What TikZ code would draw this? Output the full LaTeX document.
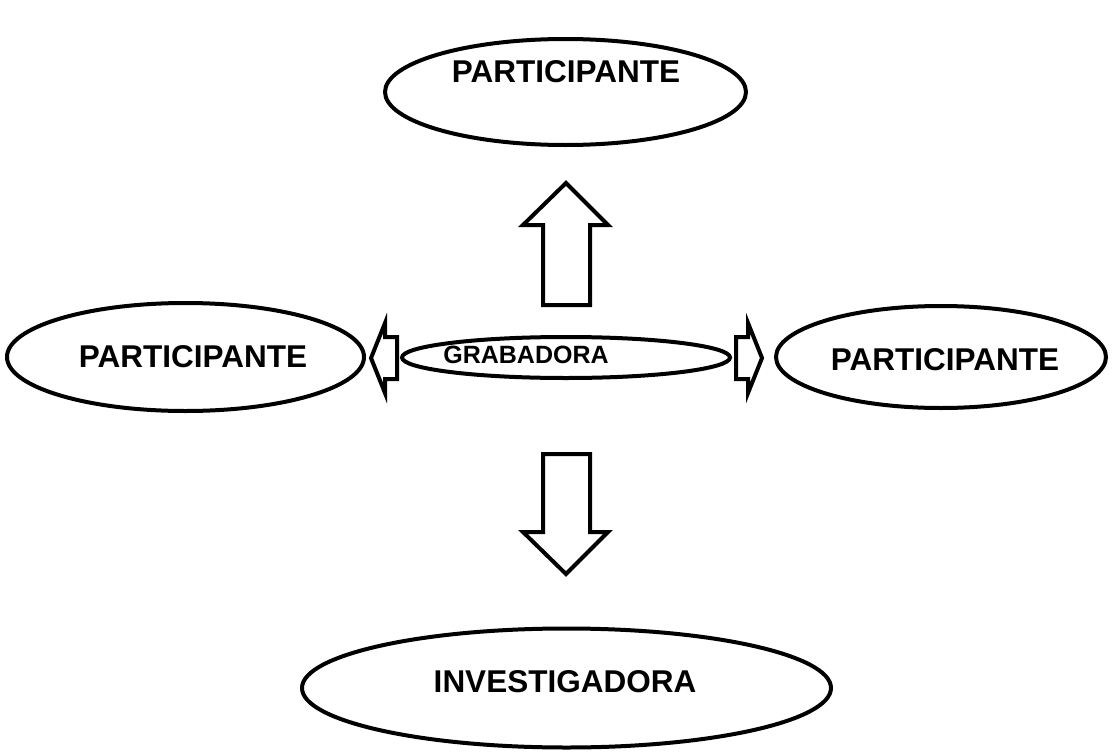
\documentclass[tikz,border=0pt]{standalone}
\usepackage{fontspec}
\setmainfont{Liberation Sans}
\usetikzlibrary{shapes.geometric}
\begin{document}
\begin{tikzpicture}[x=1pt,y=-1pt,
  oval/.style={draw, ellipse, line width=4pt, inner sep=0pt},
  lbl/.style={font=\bfseries\fontsize{31.5}{31.5}\selectfont, inner sep=0pt},
  smalllbl/.style={font=\bfseries\fontsize{25}{25}\selectfont, inner sep=0pt},
  blockarrow/.style={draw, line width=4pt, line join=miter, fill=white}]
\useasboundingbox (0,0) rectangle (1112,755);

% ovals
\node[oval, minimum width=361pt, minimum height=106pt] (ptop) at (565.5,92) {};
\node[oval, minimum width=357pt, minimum height=108pt] (pleft) at (185.5,357) {};
\node[oval, minimum width=330pt, minimum height=102pt] (pright) at (941,357) {};
\node[oval, minimum width=328pt, minimum height=41pt] (rec) at (566,357.5) {};
\node[oval, minimum width=529pt, minimum height=119pt] (inv) at (566.5,688) {};

% labels
\node[lbl] (tptop) at (566,72) {PARTICIPANTE};
\node[lbl] (tpleft) at (193,357) {PARTICIPANTE};
\node[lbl] (tpright) at (945,360) {PARTICIPANTE};
\node[smalllbl] (trec) at (526,355) {GRABADORA};
\node[lbl] (tinv) at (565,682) {INVESTIGADORA};

% block arrows
\draw[blockarrow] (543,305) -- (543,225) -- (523,225) -- (566,183) -- (608,225)
  -- (590,225) -- (590,305) -- cycle;
\draw[blockarrow] (543,454) -- (543,532) -- (523,532) -- (566,574) -- (608,532)
  -- (590,532) -- (590,454) -- cycle;
\draw[blockarrow] (397,337) -- (385,337) -- (385,323) -- (371,358) -- (385,393)
  -- (385,379) -- (397,379) -- cycle;
\draw[blockarrow] (736,337) -- (748,337) -- (748,323) -- (762,358) -- (748,393)
  -- (748,379) -- (736,379) -- cycle;
\end{tikzpicture}
\end{document}
